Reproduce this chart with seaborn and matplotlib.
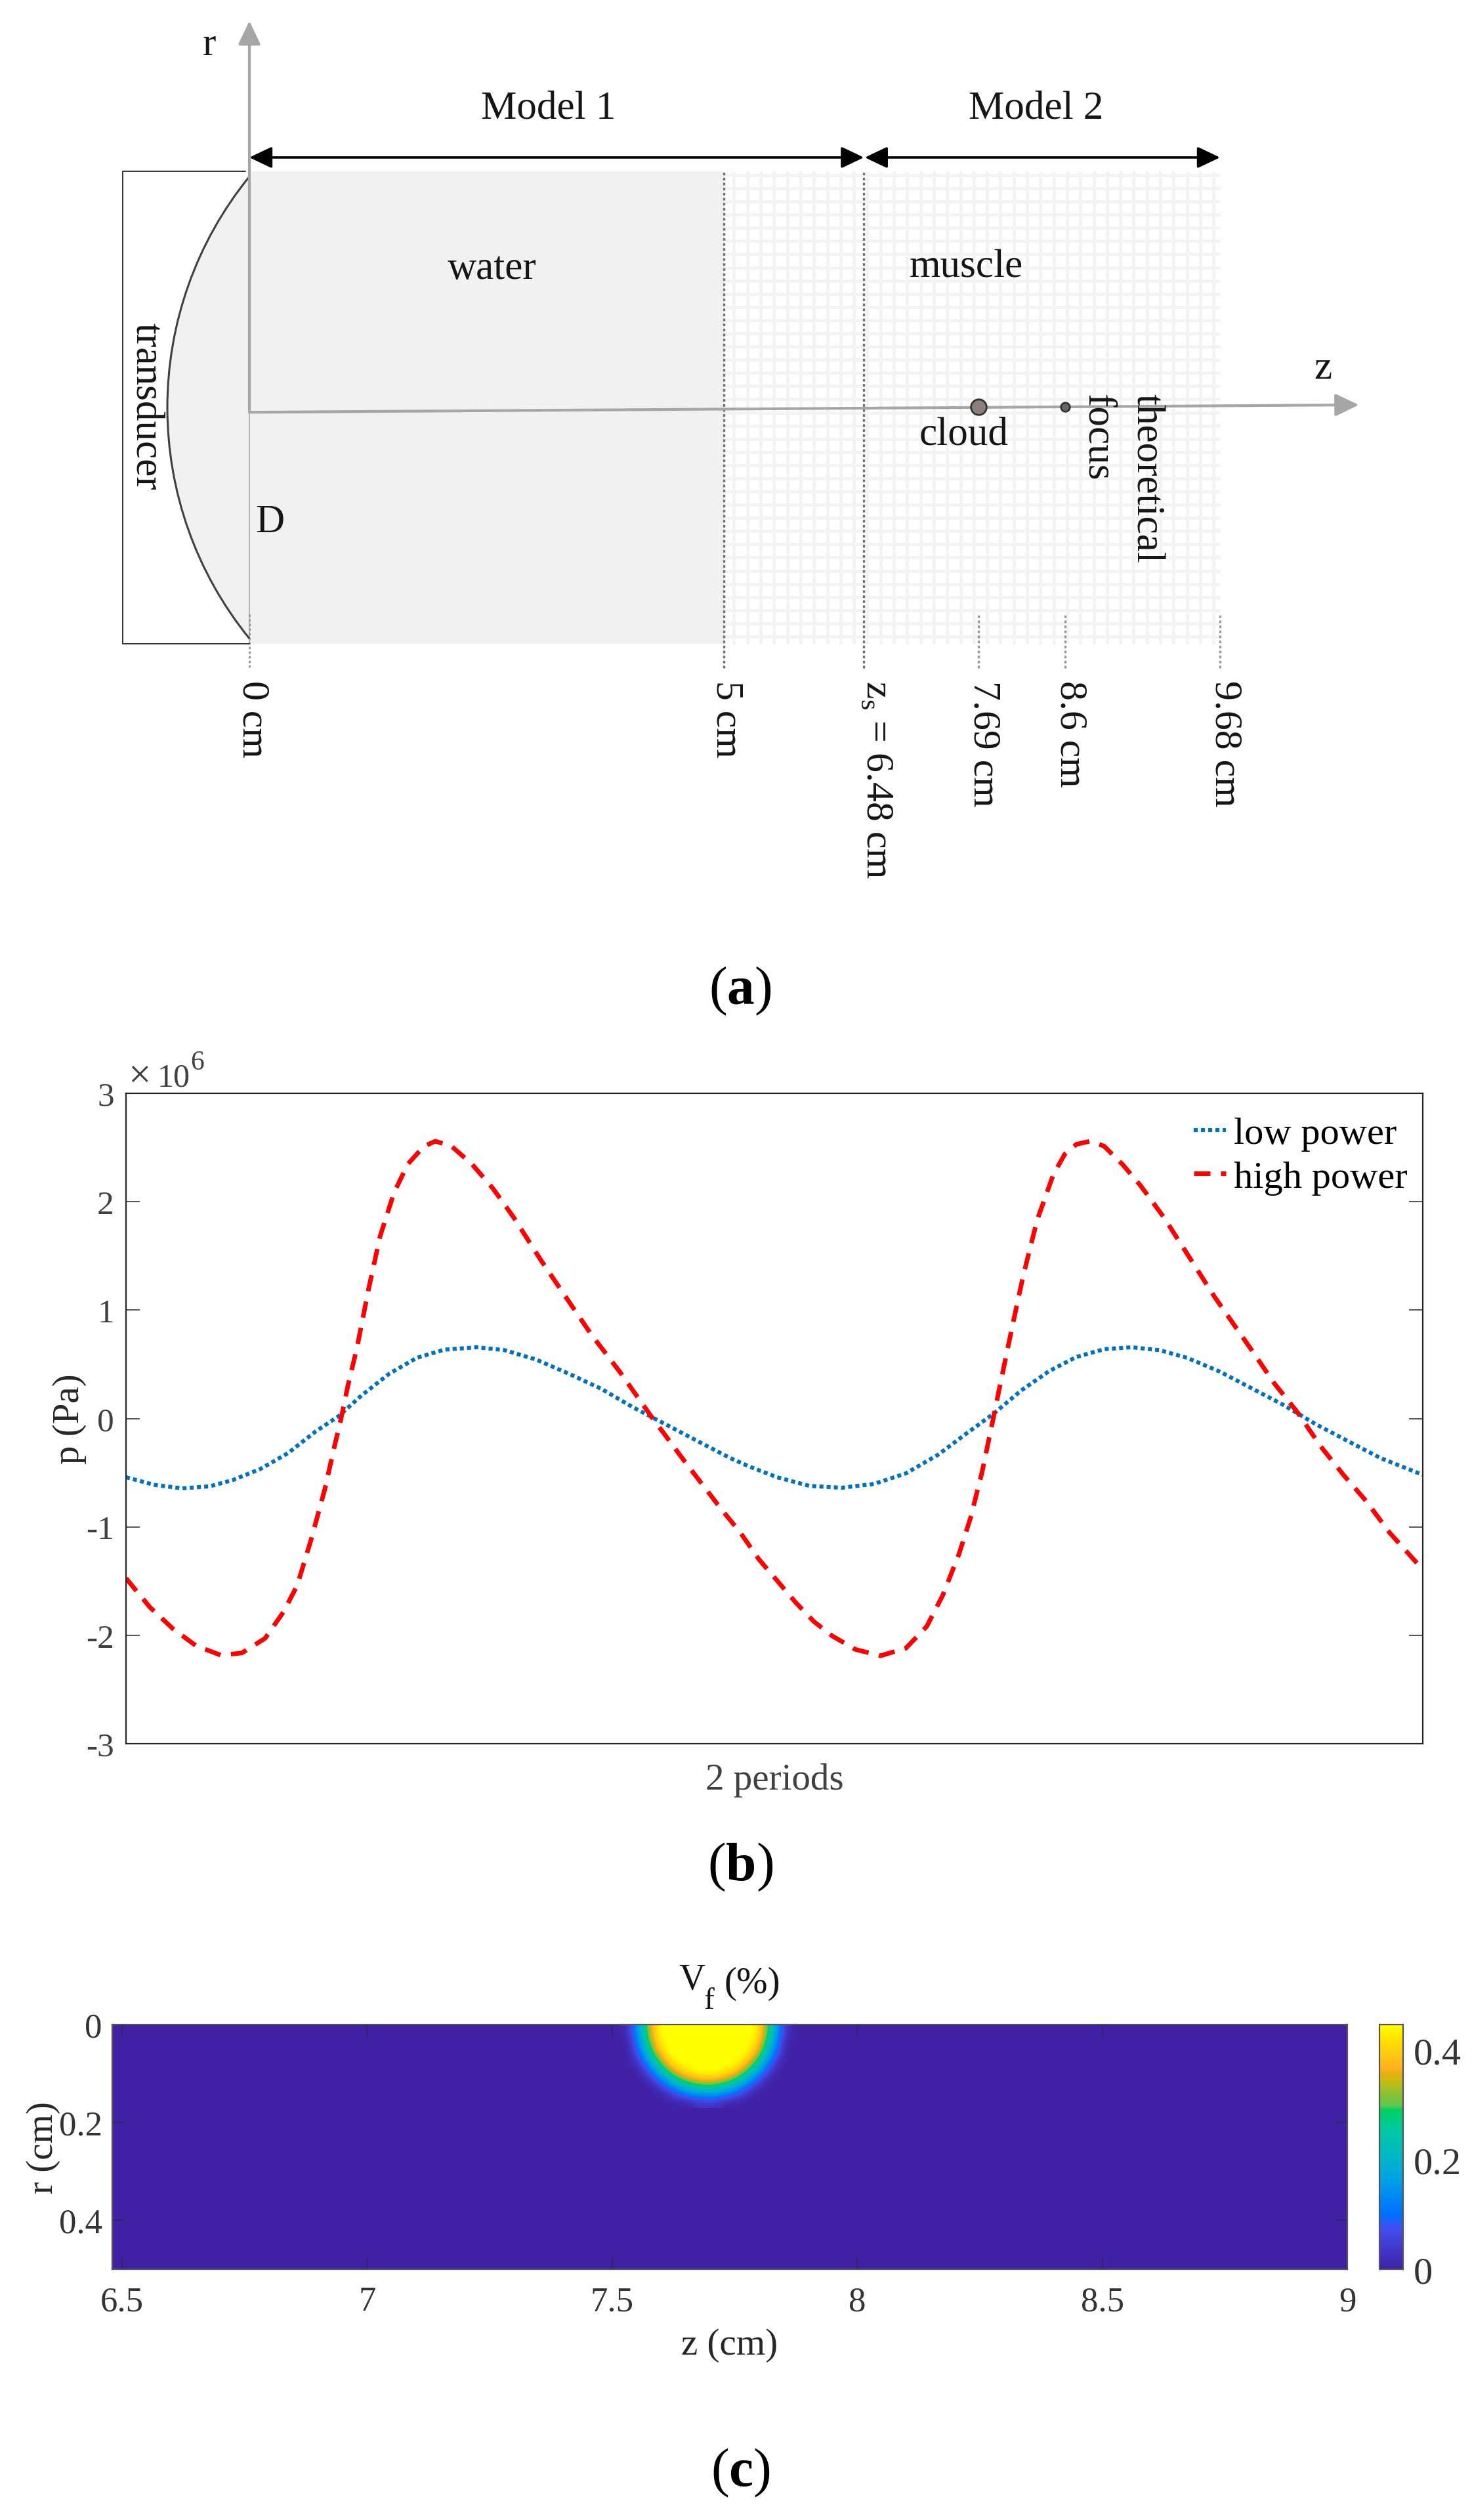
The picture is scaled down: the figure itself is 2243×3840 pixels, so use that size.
import numpy as np
import matplotlib
matplotlib.use('Agg')
import matplotlib.pyplot as plt
import seaborn as sns
from matplotlib.colors import LinearSegmentedColormap
from matplotlib.patches import Arc, Rectangle, Wedge

W, H = 2243, 3841

# panel a, positions in cm along the axis
mark_labels = ['5 cm', 'z$_{\\mathrm{s}}$ = 6.48 cm', '7.69 cm', '8.6 cm', '9.68 cm']
mark_z = [5, 6.48, 7.69, 8.6, 10.235]  # 9.68 is not drawn to scale in the diagram
cloud_z = 7.69
focus_z = 8.6
half_d = 2.49

# panel b
low_t = [0.0, .0220, .0433, .0646, .0823, .1036, .1249, .1462, .1640, .1817, .2030, .2243,
         .2456, .2705, .2918, .3166, .3415, .3663, .3912, .4125, .4373, .4657, .4808, .5021,
         .5270, .5518, .5767, .6015, .6264, .6477, .6690, .6903, .7116, .7329, .7542, .7755,
         .7968, .8181, .8430, .8678, .8927, .9175, .9423, .9672, 1.0]
low_p = [-.542, -.613, -.644, -.626, -.568, -.466, -.320, -.120, .022, .213, .413, .560,
         .635, .657, .631, .542, .413, .275, .102, -.031, -.187, -.364, -.444, -.542,
         -.622, -.639, -.604, -.506, -.333, -.142, .044, .258, .435, .568, .639, .657,
         .631, .560, .435, .280, .124, -.053, -.209, -.364, -.520]
high_t = [0.0, .0184, .0362, .0539, .0734, .0894, .1072, .1214, .1320, .1427, .1533, .1604,
          .1657, .1711, .1782, .1870, .1959, .2066, .2172, .2296, .2385, .2509, .2669, .2829,
          .2989, .3202, .3415, .3592, .3805, .4054, .4302, .4586, .4737, .4879, .5021, .5163,
          .5305, .5447, .5625, .5820, .6015, .6175, .6299, .6423, .6512, .6601, .6690, .6743,
          .6832, .6920, .7027, .7151, .7240, .7330, .7435, .7542, .7684, .7826, .8003, .8181, .8394,
          .8536, .8678, .8855, .9033, .9210, .9388, .9565, .9743, 1.0]
high_p = [-1.474, -1.741, -1.940, -2.096, -2.185, -2.163, -2.029, -1.785, -1.541, -1.119, -.653, -.275,
          -.009, .302, .657, 1.190, 1.679, 2.080, 2.345, 2.510, 2.558, 2.513, 2.345, 2.123,
          1.856, 1.456, 1.079, .768, .435, .013, -.386, -.830, -1.052, -1.297, -1.496, -1.696,
          -1.874, -2.007, -2.131, -2.189, -2.118, -1.918, -1.630, -1.252, -.919, -.497, .013, .324,
          .835, 1.323, 1.834, 2.250, 2.440, 2.530, 2.558, 2.513, 2.345, 2.145, 1.856, 1.523, 1.123,
          .879, .635, .324, .058, -.253, -.520, -.764, -1.052, -1.394]
p_ticks = [-3, -2, -1, 0, 1, 2, 3]

# panel c, Vf read on a 0.02 cm grid around the cloud
vf_z = [7.515, 7.535, 7.555, 7.575, 7.595, 7.615, 7.635, 7.655, 7.675, 7.695,
        7.715, 7.735, 7.755, 7.775, 7.795, 7.815, 7.835, 7.855, 7.875]
vf_r = [0, .02, .04, .06, .08, .10, .12, .14, .16]
vf_0 = [0, .03, .17, .33, .45, .45, .45, .45, .45, .45, .45, .45, .45, .45, .45, .33, .17, .03, 0]
vf_1 = [0, .025, .16, .315, .445, .45, .45, .45, .45, .45, .45, .45, .45, .45, .445, .315, .16, .025, 0]
vf_2 = [0, 0, .13, .27, .425, .45, .45, .45, .45, .45, .45, .45, .45, .45, .425, .27, .13, 0, 0]
vf_3 = [0, 0, .085, .215, .36, .45, .45, .45, .45, .45, .45, .45, .45, .45, .36, .215, .085, 0, 0]
vf_4 = [0, 0, .025, .14, .26, .385, .45, .45, .45, .45, .45, .45, .45, .385, .26, .14, .025, 0, 0]
vf_5 = [0, 0, 0, .05, .165, .26, .36, .425, .445, .45, .445, .425, .36, .26, .165, .05, 0, 0, 0]
vf_6 = [0, 0, 0, 0, .05, .14, .215, .27, .315, .33, .315, .27, .215, .14, .05, 0, 0, 0, 0]
vf_7 = [0, 0, 0, 0, 0, .025, .085, .13, .16, .17, .16, .13, .085, .025, 0, 0, 0, 0, 0]
vf_8 = [0, 0, 0, 0, 0, 0, 0, 0, .025, .03, .025, 0, 0, 0, 0, 0, 0, 0, 0]
vf_levels = [0, .0755, .10, .155, .20, .256, .292, .30, .324, .344, .356, .368, .396, .42, .448]
vf_colors = ['#4021A5', '#4050F0', '#0070FF', '#009BE8', '#00B4CC', '#00C8A0', '#00D060', '#60C850',
             '#90C030', '#C8BC10', '#E0B010', '#FFB020', '#FFCC10', '#FFE000', '#FFFF00']

sns.set_theme(style='white')
plt.rcParams['font.family'] = ['Liberation Serif', 'DejaVu Sans']
plt.rcParams['mathtext.fontset'] = 'custom'
plt.rcParams['mathtext.rm'] = 'Liberation Serif'
plt.rcParams['mathtext.bf'] = 'Liberation Serif:bold'
plt.rcParams['axes.unicode_minus'] = False

fig = plt.figure(figsize=(W / 100, H / 100), dpi=100, facecolor='white')


def px_axes(left, top, right, bottom):
    return fig.add_axes([left / W, 1 - bottom / H, (right - left) / W, (bottom - top) / H])


def px_text(x, y, s, size=44, color='#151515', **kw):
    kw.setdefault('ha', 'center')
    kw.setdefault('va', 'center')
    fig.text(x / W, 1 - y / H, s, fontsize=size, color=color, **kw)


# (a) the diagram: 144.5 px per cm, z=0 at x=380, r=0 at y=622
ax = fig.add_axes([0, 1 - 1520 / H, 1, 1520 / H])
ax.set_xlim(-380 / 144.5, (W - 380) / 144.5)
ax.set_ylim((622 - 1520) / 144.5, 622 / 144.5)
ax.axis('off')

ax.add_patch(Rectangle((0, -half_d), 5, 2 * half_d, color='#f1f1f1', lw=0, zorder=1))
ax.add_patch(Wedge((2.997, 0), 3.862, 140.9, 219.1, color='#f1f1f1', lw=0, zorder=1))
ax.vlines(np.arange(5.11, 10.24, .1405), -half_d, half_d, color='#f3f3f3', lw=3.4, zorder=1)
ax.hlines(np.arange(2.45, -half_d, -.139), 5, 10.235, color='#f3f3f3', lw=3.4, zorder=1)
ax.add_patch(Arc((2.997, 0), 2 * 3.862, 2 * 3.862, theta1=140.9, theta2=219.1,
                 color='#404040', lw=2.2, zorder=3))
ax.plot([-.04, -1.336, -1.336, 0], [half_d, half_d, -half_d, -half_d], color='#333333', lw=1.4, zorder=3)

dotted = (0, (1.2, 1.1))
ax.plot([0, 0], [-.05, -half_d], color='#b5b5b5', lw=1.4, zorder=2)
ax.plot([0, 0], [-2.18, -2.75], color='#999999', lw=2.2, ls=dotted, zorder=2)
ax.vlines(mark_z[:2], -2.75, half_d, color='#707070', lw=2.4, ls=dotted, zorder=2)
ax.vlines(mark_z[2:], -2.75, -2.18, color='#999999', lw=2.4, ls=dotted, zorder=2)

gray = dict(arrowstyle='-|>,head_length=2.2,head_width=1.05', color='#a6a6a6', lw=3,
            mutation_scale=10, shrinkA=0, shrinkB=0)
black = dict(arrowstyle='<|-|>,head_length=2.1,head_width=1.0', color='black', lw=2.6,
             mutation_scale=10, shrinkA=0, shrinkB=0)
ax.annotate('', xy=(0, 4.076), xytext=(0, -.05), arrowprops=gray, zorder=4)
ax.annotate('', xy=(11.70, .028), xytext=(0, -.05), arrowprops=gray, zorder=4)
ax.annotate('', xy=(0, 2.637), xytext=(6.48, 2.637), arrowprops=black, zorder=4)
ax.annotate('', xy=(6.49, 2.637), xytext=(10.235, 2.637), arrowprops=black, zorder=4)
sns.scatterplot(x=[cloud_z], y=[.01], s=290, color='#8a7f7a', edgecolor='#333333', linewidth=2, ax=ax, zorder=5)
sns.scatterplot(x=[focus_z], y=[.01], s=95, color='#666666', edgecolor='#333333', linewidth=2, ax=ax, zorder=5)
ax.set_xlabel('')
ax.set_ylabel('')

px_text(319, 69, 'r')
px_text(836, 166, 'Model 1')
px_text(1579, 166, 'Model 2')
px_text(750, 410, 'water')
px_text(1472, 408, 'muscle')
px_text(1469, 663, 'cloud')
px_text(411, 796, 'D')
px_text(2016, 562, 'z')
px_text(223, 619, 'transducer', rotation=-90)
px_text(1672, 666, 'focus', rotation=-90)
px_text(1747, 729, 'theoretical', rotation=-90)
px_text(385, 1037, '0 cm', size=43, rotation=-90, va='top')
for x_lab, lab in zip([1107, 1335, 1499, 1631, 1866], mark_labels):
    px_text(x_lab, 1037, lab, size=43, rotation=-90, va='top')
px_text(1128, 1510, '($\\mathbf{a}$)', size=60, color='black')

# (b)
ax = px_axes(192, 1667, 2168, 2658)
sns.lineplot(x=low_t, y=low_p, color='#0072BD', lw=4.4, ls=(0, (1, .8)), label='low power', ax=ax,
             estimator=None, sort=False)
sns.lineplot(x=high_t, y=high_p, color='#FF0000', lw=5, ls=(0, (3.6, 2.3)), label='high power', ax=ax,
             estimator=None, sort=False)
ax.set_xlim(0, 1)
ax.set_ylim(-3, 3)
ax.set_xticks([])
ax.set_yticks(p_ticks)
ax.set_yticklabels([str(v) for v in p_ticks])
ax.tick_params(axis='y', direction='in', left=True, right=True, length=15, width=1.1,
               color='#262626', labelsize=37, labelcolor='#404040', pad=13)
for s in ax.spines.values():
    s.set_color('#262626')
    s.set_linewidth(1.6)
ax.set_xlabel('2 periods', fontsize=41, color='#404040')
ax.xaxis.set_label_coords(.5, -(2713 - 2658) / 991)
ax.xaxis.label.set_va('center')
ax.set_ylabel('p (Pa)', fontsize=41, color='#262626')
ax.yaxis.set_label_coords(-(192 - 106) / 1976, .5)
ax.yaxis.label.set_va('center')
ax.legend(frameon=False, loc='upper right', bbox_to_anchor=(.994, .976), fontsize=42, handlelength=.85,
          handletextpad=.2, labelspacing=.23, borderaxespad=0, borderpad=.2, labelcolor='black')
px_text(212, 1643, '\u00d7', size=44, color='#404040')
px_text(240, 1655, '10', size=36, color='#404040', ha='left', va='baseline')
px_text(290, 1630, '6', size=30, color='#404040', ha='left', va='baseline')
px_text(1128, 2845, '($\\mathbf{b}$)', size=60, color='black')

# (c)
vf_table = np.array([vf_0, vf_1, vf_2, vf_3, vf_4, vf_5, vf_6, vf_7, vf_8])
vf_cmap = LinearSegmentedColormap.from_list('vf', [(v / vf_levels[-1], c) for v, c in zip(vf_levels, vf_colors)])
ax = px_axes(171, 3086, 2053, 3459)
ax.set_facecolor(vf_colors[0])
im = ax.imshow(vf_table, cmap=vf_cmap, vmin=0, vmax=vf_levels[-1], interpolation='bicubic', aspect='auto',
               extent=(vf_z[0] - .01, vf_z[-1] + .01, vf_r[-1] + .01, vf_r[0] - .01), zorder=1)
ax.set_xlim(6.48, 9)
ax.set_ylim(.5, 0)
ax.set_xticks([6.5, 7, 7.5, 8, 8.5, 9])
ax.set_xticklabels(['6.5', '7', '7.5', '8', '8.5', '9'])
ax.set_yticks([0, .2, .4])
ax.set_yticklabels(['0', '0.2', '0.4'])
ax.tick_params(direction='in', top=True, bottom=True, left=True, right=True, length=13, width=1.1,
               color='#2a2a50', labelsize=38, labelcolor='#333333')
ax.tick_params(axis='x', pad=18)
ax.tick_params(axis='y', pad=11)
for s in ax.spines.values():
    s.set_color('#555555')
    s.set_linewidth(1.6)
ax.set_xlabel('z (cm)', fontsize=41, color='#262626')
ax.xaxis.set_label_coords(.5, -(3574 - 3459) / 373)
ax.xaxis.label.set_va('center')
ax.set_ylabel('r (cm)', fontsize=41, color='#262626')
ax.yaxis.set_label_coords(-(171 - 66) / 1882, .5)
ax.yaxis.label.set_va('center')

cax = px_axes(2102, 3086, 2138, 3459)
cb = fig.colorbar(im, cax=cax)
cb.set_ticks([0, .2, .4])
cb.set_ticklabels(['0', '0.2', '0.4'])
cax.tick_params(direction='in', length=3, width=1.1, color='#333333', labelsize=42, labelcolor='#333333', pad=11)
cb.outline.set_edgecolor('#555555')
cb.outline.set_linewidth(1.6)

px_text(1054, 3018, 'V', size=40)
px_text(1080, 3050, 'f', size=34)
px_text(1146, 3023, '(%)', size=41)
px_text(1128, 3768, '($\\mathbf{c}$)', size=60, color='black')

fig.savefig('out.png', dpi=100, facecolor='white')
